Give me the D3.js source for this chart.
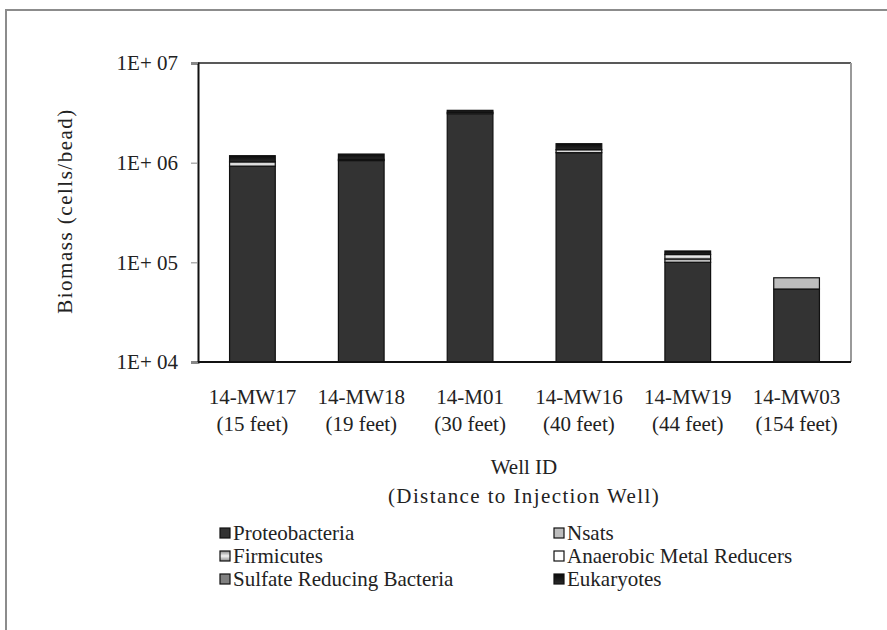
<!DOCTYPE html>
<html>
<head>
<meta charset="utf-8">
<script src="https://cdn.jsdelivr.net/npm/d3@7"></script>
<style>
  body { margin: 0; background: #fff; }
  svg text { font-family: "Liberation Serif", "Times New Roman", Times, serif !important; fill: #222; }
</style>
</head>
<body>
<div id="canvas"></div>
<script>
const wells = ["14-MW17", "14-MW18", "14-M01", "14-MW16", "14-MW19", "14-MW03"];
const distances = ["(15 feet)", "(19 feet)", "(30 feet)", "(40 feet)", "(44 feet)", "(154 feet)"];
const proteobacteria = [9.2e5, 1.05e6, 3.1e6, 1.26e6, 1.0e5, 5.4e4];
const nsats = [0, 0, 0, 0, 8e3, 1.6e4];
const firmicutes = [1.0e5, 3e4, 1.0e5, 9e4, 1.2e4, 0];
const metalReducers = [0, 0, 0, 0, 0, 0];
const sulfateReducers = [0, 0, 0, 0, 0, 0];
const eukaryotes = [1.55e5, 1.4e5, 1.5e5, 2.0e5, 1.0e4, 0];
const yTicks = [1e4, 1e5, 1e6, 1e7];
const yTickLabels = ["1E+ 04", "1E+ 05", "1E+ 06", "1E+ 07"];

const keys = ["Proteobacteria", "Nsats", "Firmicutes", "Anaerobic Metal Reducers", "Sulfate Reducing Bacteria", "Eukaryotes"];
const seriesValues = [proteobacteria, nsats, firmicutes, metalReducers, sulfateReducers, eukaryotes];
const table = wells.map((w, i) => {
  const row = { well: w, dist: distances[i] };
  keys.forEach((k, j) => row[k] = seriesValues[j][i]);
  return row;
});

const width = 887, height = 630;
const margin = { top: 63, left: 198, bottom: 268, right: 36 };
const iwidth = width - margin.left - margin.right;
const iheight = height - margin.top - margin.bottom;
const fs = "21px";

const svg = d3.select("#canvas").append("svg")
  .attr("width", width).attr("height", height);

// gradients for patterned series
const defs = svg.append("defs");
const gFirm = defs.append("linearGradient").attr("id", "firm").attr("x1", 0).attr("y1", 0).attr("x2", 0).attr("y2", 1);
gFirm.append("stop").attr("offset", "0%").attr("stop-color", "#8a8a8a");
gFirm.append("stop").attr("offset", "50%").attr("stop-color", "#f2f2f2");
gFirm.append("stop").attr("offset", "100%").attr("stop-color", "#8a8a8a");
const gEuk = defs.append("linearGradient").attr("id", "euk").attr("x1", 0).attr("y1", 0).attr("x2", 0).attr("y2", 1);
gEuk.append("stop").attr("offset", "0%").attr("stop-color", "#0a0a0a");
gEuk.append("stop").attr("offset", "100%").attr("stop-color", "#2a2a2a");

const color = d3.scaleOrdinal().domain(keys)
  .range(["#333333", "#bdbdbd", "url(#firm)", "#ffffff", "#808080", "url(#euk)"]);

// outer frame
svg.append("rect").attr("x", 6).attr("y", 10).attr("width", 900).attr("height", 660)
  .attr("fill", "none").attr("stroke", "#8c8c8c").attr("stroke-width", 2);

const g = svg.append("g").attr("transform", `translate(${margin.left},${margin.top})`);

const x = d3.scaleBand().domain(wells).range([0, iwidth]).paddingInner(0.58).paddingOuter(0.29);
const y = d3.scaleLog().domain([1e4, 1e7]).range([iheight, 0]);

// plot frame (top and right)
g.append("line").attr("x1", 0).attr("x2", iwidth).attr("y1", 0).attr("y2", 0)
  .attr("stroke", "#222").attr("stroke-width", 1.5);
g.append("line").attr("x1", iwidth).attr("x2", iwidth).attr("y1", 0).attr("y2", iheight)
  .attr("stroke", "#9a9a9a").attr("stroke-width", 2);

const stacked = d3.stack().keys(keys)(table);

g.selectAll("g.series").data(stacked).enter().append("g")
  .attr("class", "series")
  .attr("fill", d => color(d.key))
  .selectAll("rect")
  .data(d => d.filter(s => s[1] - s[0] > 0))
  .enter().append("rect")
  .attr("x", d => x(d.data.well))
  .attr("y", d => y(d[1]))
  .attr("width", x.bandwidth())
  .attr("height", d => y(Math.max(d[0], 1e4)) - y(d[1]))
  .attr("stroke", "#111").attr("stroke-width", 1.2);

// y axis
const yAxis = g.append("g").call(d3.axisLeft(y).tickValues(yTicks)
  .tickFormat((d, i) => yTickLabels[i]).tickSize(7).tickPadding(13));
yAxis.attr("font-family", null).attr("font-size", null);
yAxis.select(".domain").attr("stroke", "#111").attr("stroke-width", 2);
yAxis.selectAll(".tick line").attr("stroke", "#888");
yAxis.selectAll(".tick text").style("font-size", fs).attr("fill", "#222");

// x axis baseline
g.append("line").attr("x1", 0).attr("x2", iwidth).attr("y1", iheight).attr("y2", iheight)
  .attr("stroke", "#111").attr("stroke-width", 2);

// category labels
const xl = g.append("g").selectAll("text").data(table).enter();
xl.append("text").attr("x", d => x(d.well) + x.bandwidth() / 2).attr("y", iheight + 42)
  .attr("text-anchor", "middle").style("font-size", fs).text(d => d.well);
xl.append("text").attr("x", d => x(d.well) + x.bandwidth() / 2).attr("y", iheight + 69)
  .attr("text-anchor", "middle").style("font-size", fs).text(d => d.dist);

// axis titles
svg.append("text").attr("x", 524).attr("y", 474).attr("text-anchor", "middle")
  .style("font-size", fs).text("Well ID");
svg.append("text").attr("x", 524).attr("y", 503).attr("text-anchor", "middle")
  .style("font-size", fs).style("letter-spacing", "1.4px").text("(Distance to Injection Well)");
svg.append("text").attr("transform", "translate(72,211) rotate(-90)")
  .attr("text-anchor", "middle").style("font-size", fs).style("letter-spacing", "1.5px")
  .text("Biomass (cells/bead)");

// legend (row-major, two columns)
const legend = svg.append("g").selectAll("g").data(keys).enter().append("g")
  .attr("transform", (d, i) => `translate(${i % 2 === 0 ? 220 : 554},${534 + Math.floor(i / 2) * 23})`);
legend.append("rect").attr("x", 0).attr("y", -6).attr("width", 10).attr("height", 10)
  .attr("fill", d => color(d)).attr("stroke", "#111").attr("stroke-width", 1.2);
legend.append("text").attr("x", 13).attr("y", 6).style("font-size", fs).text(d => d);
</script>
</body>
</html>
